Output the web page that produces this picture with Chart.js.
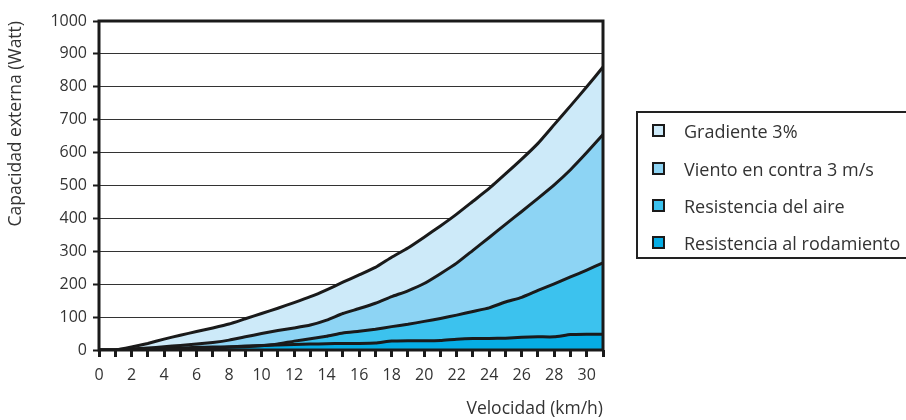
<!DOCTYPE html>
<html>
<head>
<meta charset="utf-8">
<script src="https://cdn.jsdelivr.net/npm/chart.js@4/dist/chart.umd.min.js"></script>
<style>
  body { margin: 0; background: #fff; }
  #wrap { position: relative; width: 906px; height: 420px; overflow: hidden; }
  #legend { position: absolute; left: 636px; top: 111px; width: 290px; height: 148px;
            border: 2px solid #222; box-sizing: border-box; font-family: "Open Sans", sans-serif;
            font-size: 18px; color: #333; }
  .item { position: absolute; left: 14px; height: 22px; line-height: 22px; white-space: nowrap; }
  .item span.box { position: absolute; left: 0; top: 4px; width: 9px; height: 9px; border: 2.5px solid #1a1a1a; }
  .item span.txt { position: absolute; left: 32px; top: 0; }
</style>
</head>
<body>
<div id="wrap">
  <canvas id="chartjs-0" width="906" height="420"></canvas>
  <div id="legend"></div>
</div>
<script>
// velocidad en km/h
var velocidad = [0,1,2,3,4,5,6,7,8,9,10,11,12,13,14,15,16,17,18,19,20,21,22,23,24,25,26,27,28,29,30,31];

// valores acumulados (Watt)
var gradiente = [0,0,9,20,33,45,56,67,79,95,111,127,144,162,183,206,228,251,282,310,343,377,413,452,491,535,580,628,685,742,800,860];
var viento    = [0,0,3,6,10,14,18,23,30,40,50,59,67,76,91,111,126,142,162,180,202,232,264,303,342,382,421,461,502,548,600,655];
var aire      = [0,0,1,2,3,4,5,6,8,10,13,18,27,34,42,52,57,63,71,78,87,96,106,117,128,146,160,181,201,222,243,265];
var rodamiento= [0,0,2,4,5,6,8,9,10,12,14,15,17,18,19,20,20,21,27,28,28,29,33,35,35,36,39,40,40,47,48,48];

var yTicks = [0,100,200,300,400,500,600,700,800,900,1000];

var nombres = ["Gradiente 3%", "Viento en contra 3 m/s", "Resistencia del aire", "Resistencia al rodamiento"];
var colores = ["#cdeaf9", "#8dd4f4", "#3cc2ee", "#06ade5"];
var series = [gradiente, viento, aire, rodamiento];
var rellenos = ["+1", "+1", "+1", "origin"];

var datasets = [];
for (var i = 0; i < series.length; i++) {
    var pts = [];
    for (var j = 0; j < velocidad.length; j++) {
        pts.push({x: velocidad[j], y: series[i][j]});
    }
    datasets.push({
        label: nombres[i],
        data: pts,
        backgroundColor: colores[i],
        borderColor: "#1a1a1a",
        borderWidth: 3,
        pointRadius: 0,
        tension: 0.15,
        fill: rellenos[i]
    });
}

/* marco grueso alrededor del area */
var marco = {
    id: "marco",
    afterDatasetsDraw: function(chart) {
        var a = chart.chartArea;
        var c = chart.ctx;
        c.save();
        c.strokeStyle = "#1a1a1a";
        c.lineWidth = 3;
        c.strokeRect(a.left, a.top, a.right - a.left, a.bottom - a.top);
        c.restore();
    }
};

var fuenteTicks = { family: "'Open Sans', sans-serif", size: 16 };
var fuenteTitulo = { family: "'Open Sans', sans-serif", size: 17.5 };

var ctx0 = document.getElementById("chartjs-0");
var myChart = new Chart(ctx0, {
    type: "line",
    data: { datasets: datasets },
    options: {
        responsive: false,
        animation: false,
        layout: { padding: { left: 0, right: 303, top: 21, bottom: 0 } },
        plugins: {
            legend: { display: false },
            tooltip: { enabled: false },
            filler: { drawTime: "beforeDatasetsDraw" }
        },
        scales: {
            x: {
                type: "linear",
                min: 0,
                max: 31,
                afterFit: function(scale) { scale.height = 70; },
                ticks: {
                    stepSize: 1,
                    color: "#333",
                    font: fuenteTicks,
                    padding: 9,
                    maxRotation: 0,
                    autoSkip: false,
                    callback: function(v) { return v % 2 === 0 ? String(v) : ""; }
                },
                grid: { drawOnChartArea: false, tickLength: 7, tickWidth: 3, tickColor: "#1a1a1a" },
                border: { display: false },
                title: { display: true, text: "Velocidad (km/h)", align: "end", color: "#333", font: fuenteTitulo, padding: { top: 0, bottom: 0 } }
            },
            y: {
                min: 0,
                max: 1000,
                afterFit: function(scale) { scale.width = 99; },
                afterBuildTicks: function(scale) { scale.ticks = yTicks.map(function(v) { return {value: v}; }); },
                ticks: { color: "#333", font: fuenteTicks, padding: 6, callback: function(v) { return String(v); } },
                grid: { color: "#333", lineWidth: 1, tickLength: 6, tickWidth: 2, tickColor: "#1a1a1a" },
                border: { display: false },
                title: { display: true, text: "Capacidad externa (Watt)", align: "end", color: "#333", font: fuenteTitulo, padding: { top: 6, bottom: 0 } }
            }
        }
    },
    plugins: [marco]
});

/* leyenda en HTML a partir de los datasets */
var leyenda = document.getElementById("legend");
var tops = [7, 45, 82, 119];
myChart.data.datasets.forEach(function(ds, k) {
    var it = document.createElement("div");
    it.className = "item";
    it.style.top = tops[k] + "px";
    it.innerHTML = '<span class="box" style="background:' + ds.backgroundColor + '"></span><span class="txt">' + ds.label + '</span>';
    leyenda.appendChild(it);
});
</script>
</body>
</html>
